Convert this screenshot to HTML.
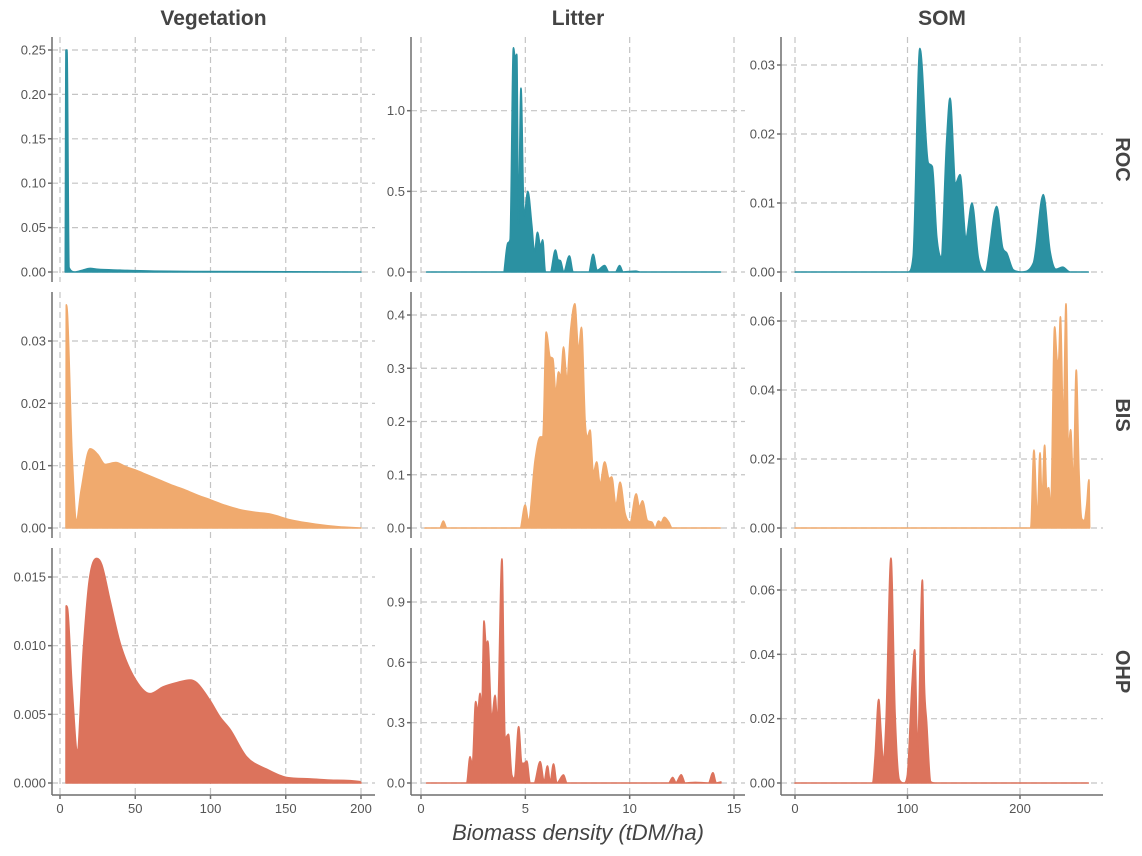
<!DOCTYPE html>
<html><head><meta charset="utf-8">
<style>
body{margin:0;background:#fff;}
svg{display:block;font-family:"Liberation Sans",sans-serif;}
.tick{font-size:13px;fill:#555;}
.grid{stroke:#c4c4c4;stroke-width:1.2;stroke-dasharray:6,4;fill:none;}
.axis{stroke:#6e6e6e;stroke-width:1.5;fill:none;}
</style></head>
<body>
<svg id="chart" width="1142" height="856" viewBox="0 0 1142 856"></svg>
<script>
const columns = ["Vegetation","Litter","SOM"];
const rows = ["ROC","BIS","OHP"];
const rowColors = ["#2b91a2","#f0aa6e","#dc735c"];
const xTicksVeg = [0,50,100,150,200];
const xTicksLit = [0,5,10,15];
const xTicksSom = [0,100,200];
const yTicksRocVeg = ["0.00","0.05","0.10","0.15","0.20","0.25"];
const yTicksRocLit = ["0.0","0.5","1.0"];
const yTicksRocSom = ["0.00","0.01","0.02","0.03"];
const yTicksBisVeg = ["0.00","0.01","0.02","0.03"];
const yTicksBisLit = ["0.0","0.1","0.2","0.3","0.4"];
const yTicksBisSom = ["0.00","0.02","0.04","0.06"];
const yTicksOhpVeg = ["0.000","0.005","0.010","0.015"];
const yTicksOhpLit = ["0.0","0.3","0.6","0.9"];
const yTicksOhpSom = ["0.00","0.02","0.04","0.06"];

const rocVeg = [[3.5,0],[4,0.25],[4.6,0.25],[6,0.005],[10,0],[15,0.002],[20,0.004],[25,0.003],[40,0.002],[60,0.001],[100,0.0005],[200,0]];
const rocLit = [[0.27,0],[3.95,0],[4.16,0.18],[4.27,0.2],[4.43,1.39],[4.51,1.33],[4.59,1.35],[4.67,0.3],[4.79,1.14],[4.94,0.35],[5.12,0.5],[5.31,0.29],[5.44,0.12],[5.58,0.246],[5.73,0.16],[5.83,0.2],[5.96,0],[6.2,0],[6.44,0.136],[6.57,0.075],[6.68,0.07],[6.84,0],[7.11,0.1],[7.29,0],[8.04,0],[8.25,0.11],[8.44,0.01],[8.8,0.04],[9.0,0],[9.32,0],[9.52,0.04],[9.68,0],[10.3,0.005],[10.5,0],[14.35,0]];
const rocSom = [[0.2,0],[100.7,0],[105,0.0022],[111,0.0324],[118.5,0.0158],[122,0.0153],[126,0.0051],[129.8,0.0022],[134.8,0.019],[137.8,0.0252],[142.8,0.0129],[146.7,0.0141],[152,0.0051],[157.3,0.01],[163,0.002],[168.9,0],[179.3,0.0095],[184.6,0.0035],[188,0.0028],[194,0.0003],[201.5,0],[211.9,0.0013],[220.7,0.0112],[226.7,0.003],[232,0.0004],[237.9,0.0007],[244.4,0],[260.7,0]];
const bisVeg = [[4,0],[4.2,0.0358],[5,0.034],[8,0.012],[11,0.0013],[14,0.006],[20,0.0127],[25,0.0118],[30,0.0102],[37,0.0105],[44,0.0098],[50,0.0093],[58,0.0085],[66,0.0077],[75,0.0068],[83,0.0061],[92,0.0052],[100,0.0045],[110,0.0036],[120,0.0029],[130,0.0025],[140,0.0022],[153,0.0013],[170,0.0006],[185,0.0002],[200,0]];
const bisLit = [[0.19,0],[0.91,0],[1.07,0.013],[1.23,0],[4.75,0],[4.99,0.043],[5.15,0.014],[5.47,0.128],[5.71,0.171],[5.84,0.171],[6.0,0.368],[6.19,0.321],[6.32,0.318],[6.46,0.253],[6.59,0.293],[6.7,0.284],[6.83,0.34],[6.99,0.28],[7.18,0.375],[7.37,0.421],[7.55,0.334],[7.69,0.377],[7.87,0.196],[7.98,0.171],[8.1,0.184],[8.26,0.103],[8.42,0.124],[8.58,0.083],[8.8,0.124],[9.02,0.093],[9.14,0.096],[9.34,0.043],[9.54,0.086],[9.78,0.027],[10.02,0.011],[10.31,0.064],[10.47,0.039],[10.61,0.051],[10.85,0.014],[11.06,0.011],[11.22,0],[11.38,0.013],[11.5,0.01],[11.66,0.02],[11.87,0.011],[12.03,0],[14.34,0]];
const bisSom = [[0,0],[209.5,0],[212.4,0.0226],[215.4,0.003],[217.8,0.0218],[219.5,0.008],[221.9,0.024],[223.7,0.011],[225.5,0.0117],[227.3,0.0056],[230.8,0.0583],[233.2,0.0482],[234.4,0.0487],[235.9,0.0612],[238.5,0.0303],[240.9,0.065],[243,0.0226],[245,0.0285],[247.4,0.013],[250,0.0458],[252.4,0.0167],[254.8,0.0027],[256.9,0.0022],[259.3,0.0066],[261.3,0.014],[261.9,0]];
const ohpVeg = [[4,0],[4.1,0.0129],[5,0.0127],[8,0.007],[11.5,0.0024],[15.5,0.0097],[19.5,0.0148],[24.4,0.01635],[27.7,0.0159],[33.2,0.0133],[39.9,0.0102],[48.7,0.0078],[59.8,0.0065],[68.6,0.007],[77.5,0.0073],[86.4,0.0075],[90.8,0.0073],[99.7,0.006],[106.3,0.0048],[113,0.0039],[124,0.0019],[137.3,0.001],[150.6,0.0004],[166,0.0003],[181.6,0.0002],[199.3,0.0001],[200,0]];
const ohpLit = [[0.27,0],[2.19,0],[2.35,0.131],[2.46,0.09],[2.62,0.405],[2.72,0.355],[2.83,0.446],[2.91,0.355],[3.02,0.806],[3.12,0.687],[3.2,0.706],[3.39,0.32],[3.55,0.436],[3.66,0.305],[3.88,1.114],[4.03,0.222],[4.19,0.242],[4.35,0.04],[4.48,0.023],[4.68,0.28],[4.83,0.098],[4.94,0.098],[5.07,0.109],[5.23,0],[5.42,0],[5.71,0.106],[5.9,0.007],[6.06,0.085],[6.19,0.005],[6.35,0.095],[6.51,0],[6.83,0.04],[6.99,0],[11.87,0],[12.06,0.028],[12.22,0.002],[12.47,0.041],[12.66,0],[13.14,0.003],[13.78,0],[13.99,0.051],[14.15,0],[14.37,0.005]];
const ohpSom = [[0,0],[69,0],[71.1,0.0077],[74.4,0.026],[76.4,0.016],[78.5,0.0066],[80.9,0.019],[85.3,0.0699],[88.9,0.022],[92.7,0.001],[96.9,0],[99.9,0.0025],[104,0.0305],[106.4,0.0414],[109,0.0108],[113.2,0.0631],[115,0.0305],[117,0.019],[120.6,0.0004],[124.4,0],[260.7,0]];

const NS="http://www.w3.org/2000/svg";
const svg=document.getElementById('chart');
function mk(tag,attrs,parent){const e=document.createElementNS(NS,tag);for(const k in attrs)e.setAttribute(k,attrs[k]);(parent||svg).appendChild(e);return e;}

// monotone cubic (Fritsch-Carlson) path through pixel points
function monotonePath(P){
 const n=P.length;if(n<3){return P.map((p,i)=>(i?'L':'M')+p[0]+','+p[1]).join(' ');}
 const d=[],m=[];
 for(let i=0;i<n-1;i++){const dx=P[i+1][0]-P[i][0];d.push(dx===0?0:(P[i+1][1]-P[i][1])/dx);}
 m[0]=d[0];m[n-1]=d[n-2];
 for(let i=1;i<n-1;i++){m[i]=(d[i-1]*d[i]<=0)?0:(d[i-1]+d[i])/2;}
 for(let i=0;i<n-1;i++){if(d[i]===0){m[i]=0;m[i+1]=0;continue;}
  const a=m[i]/d[i],b=m[i+1]/d[i],s=a*a+b*b;if(s>9){const t=3/Math.sqrt(s);m[i]=t*a*d[i];m[i+1]=t*b*d[i];}}
 let s='';
 for(let i=0;i<n-1;i++){const h=(P[i+1][0]-P[i][0])/3;
  s+=' C'+(P[i][0]+h).toFixed(2)+','+(P[i][1]+m[i]*h).toFixed(2)+' '+(P[i+1][0]-h).toFixed(2)+','+(P[i+1][1]-m[i+1]*h).toFixed(2)+' '+P[i+1][0].toFixed(2)+','+P[i+1][1].toFixed(2);}
 return s;
}

const colGeom=[
 {left:52,right:375,x0:60,xUnit:301/200,ticks:xTicksVeg},
 {left:411,right:745,x0:421,xUnit:313/15,ticks:xTicksLit},
 {left:781,right:1103,x0:795,xUnit:225/200,ticks:xTicksSom}];
const rowGeom=[{top:37,bottom:282,y0:272},{top:292,bottom:538,y0:528},{top:548,bottom:795,y0:783}];
const panels=[
 [{data:rocVeg,ticks:yTicksRocVeg,topPx:50},{data:rocLit,ticks:yTicksRocLit,topPx:110.7},{data:rocSom,ticks:yTicksRocSom,topPx:65}],
 [{data:bisVeg,ticks:yTicksBisVeg,topPx:341},{data:bisLit,ticks:yTicksBisLit,topPx:315},{data:bisSom,ticks:yTicksBisSom,topPx:321}],
 [{data:ohpVeg,ticks:yTicksOhpVeg,topPx:577},{data:ohpLit,ticks:yTicksOhpLit,topPx:602},{data:ohpSom,ticks:yTicksOhpSom,topPx:590}]];

for(let r=0;r<3;r++){
 for(let c=0;c<3;c++){
  const cg=colGeom[c], rg=rowGeom[r], p=panels[r][c];
  const g=mk('g',{});
  
  
  const yMax=parseFloat(p.ticks[p.ticks.length-1]);
  const yPer=(rg.y0-p.topPx)/yMax;
  const X=v=>cg.x0+v*cg.xUnit;
  const Y=v=>rg.y0-v*yPer;
  cg.ticks.forEach(t=>{const l=mk('line',{x1:X(t),x2:X(t),y1:rg.top,y2:rg.bottom,class:'grid'},g);
   });
  p.ticks.forEach(t=>{const v=parseFloat(t);const l=mk('line',{x1:cg.left,x2:cg.right,y1:Y(v),y2:Y(v),class:'grid'},g);
   
   const tk=mk('line',{x1:cg.left-4,x2:cg.left,y1:Y(v),y2:Y(v),class:'axis'},g);
   
   const tx=mk('text',{x:cg.left-6,y:Y(v)+4.5,'text-anchor':'end',class:'tick'},g);tx.textContent=t;
   });
  const pts=p.data.map(q=>[X(q[0]),Y(q[1])]);
  let d='M'+pts[0][0]+','+Y(0)+' L'+pts[0][0]+','+pts[0][1]+monotonePath(pts)+' L'+pts[pts.length-1][0]+','+Y(0)+' Z';
  const a=mk('path',{d:d,fill:rowColors[r],stroke:rowColors[r],'stroke-width':1.6,'stroke-linejoin':'round'},g);
  
  const ax=mk('line',{x1:cg.left,x2:cg.left,y1:rg.top,y2:rg.bottom,class:'axis'},g);
  
  if(r===2){
   const bx=mk('line',{x1:cg.left,x2:cg.right,y1:rg.bottom,y2:rg.bottom,class:'axis'},g);
   
   cg.ticks.forEach(t=>{const tk=mk('line',{x1:X(t),x2:X(t),y1:rg.bottom,y2:rg.bottom+4,class:'axis'},g);
    
    const tx=mk('text',{x:X(t),y:rg.bottom+18,'text-anchor':'middle',class:'tick'},g);tx.textContent=t;
    });
  }
 }
}
columns.forEach((n,c)=>{const cg=colGeom[c];
 const t=mk('text',{x:(cg.left+cg.right)/2,y:25,'text-anchor':'middle','font-size':21,'font-weight':'bold',fill:'#444'});
 t.textContent=n;});
rows.forEach((n,r)=>{const rg=rowGeom[r];const cy=(rg.top+rg.bottom)/2;
 const t=mk('text',{x:1116,y:cy,'text-anchor':'middle','font-size':20,'font-weight':'bold',fill:'#444',transform:'rotate(90 1116 '+cy+')'});
 t.textContent=n;});
const xt=mk('text',{x:578,y:840,'text-anchor':'middle','font-size':22,'font-style':'italic',fill:'#444'});
xt.textContent='Biomass density (tDM/ha)';


</script>
</body></html>
